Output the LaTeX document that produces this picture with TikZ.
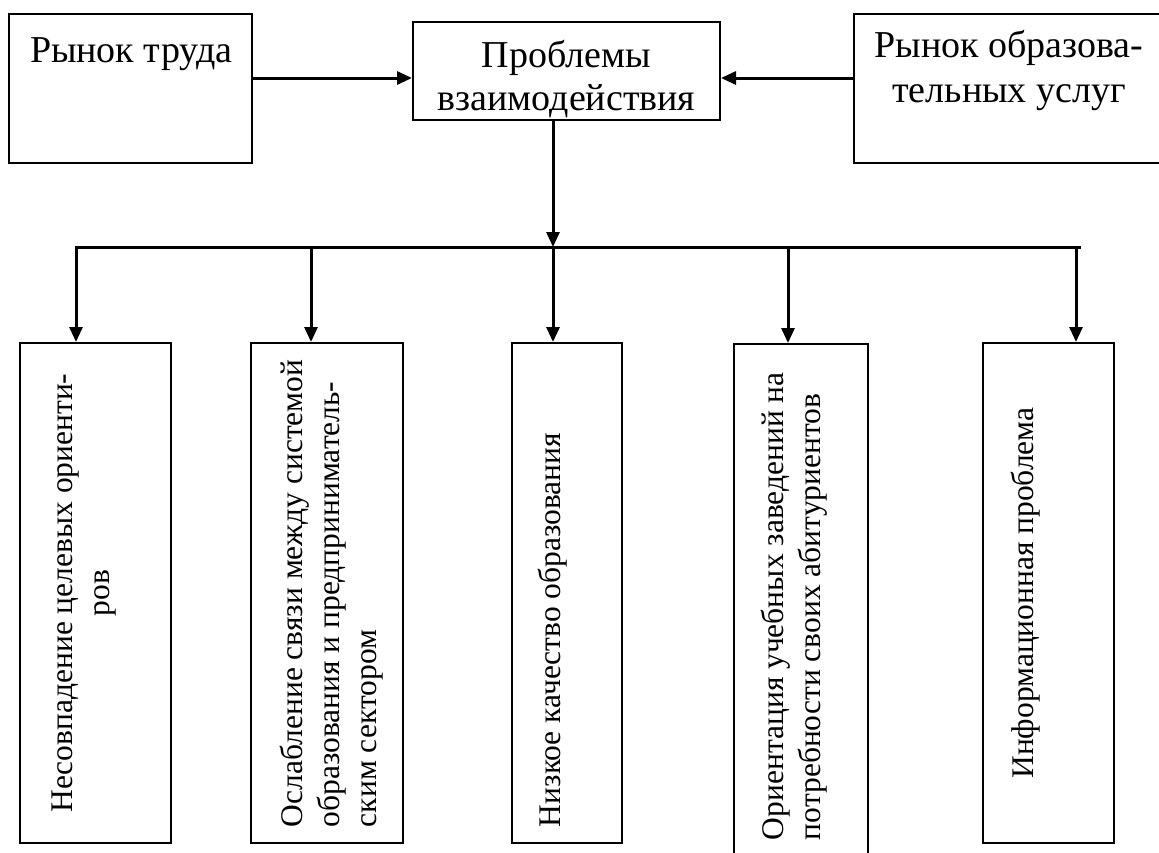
\documentclass[tikz,border=0pt]{standalone}
\usepackage{fontspec}
\setmainfont{Liberation Serif}
\usetikzlibrary{arrows.meta}
\begin{document}
\begin{tikzpicture}[x=1pt,y=-1pt,
  conn/.style={line width=3pt,-{Triangle[length=15pt,width=13pt]}},
  busline/.style={line width=3pt,line cap=rect},
  topbox/.style={draw,line width=2pt,inner sep=0pt,anchor=north west},
  botbox/.style={draw,line width=2pt,inner xsep=16pt,inner ysep=0pt,rotate=90,anchor=center,
    font=\fontsize{31.5}{37}\selectfont}]
\useasboundingbox (0,0) rectangle (1159,852);
\begin{scope}
\clip (0,0) rectangle (1159,852);
% top row
\node[topbox,font=\fontsize{38}{44}\selectfont] (L) at (8,13)
  {\parbox[t][149pt][t]{243pt}{\hspace*{21pt}\rule{0pt}{48pt}Рынок труда}};
\node[topbox,font=\fontsize{38}{43}\selectfont] (C) at (412,21)
  {\parbox[t][98pt][t]{307pt}{\centering\rule{0pt}{45pt}Проблемы\\взаимодействия}};
\node[topbox,font=\fontsize{38}{45}\selectfont] (R) at (853,13)
  {\parbox[t][149pt][t]{310pt}{\centering\rule{0pt}{43pt}Рынок образова-\\тельных услуг}};
% bottom row
\node[botbox] (B1) at (95.5,593)
  {\parbox[t][151pt][t]{468pt}{\centering\rule{0pt}{52pt}Несовпадение целевых ориенти-\\ров}};
\node[botbox] (B2) at (327,593)
  {\parbox[t][152pt][t]{468pt}{\raggedright\rule{0pt}{51pt}Ослабление связи между системой\\образования и предприниматель-\\ским сектором}};
\node[botbox] (B3) at (567,593)
  {\parbox[t][110pt][t]{468pt}{\raggedright\rule{0pt}{48pt}Низкое качество образования}};
\node[botbox] (B4) at (800.5,600)
  {\parbox[t][134pt][t]{480pt}{\raggedright\rule{0pt}{50pt}Ориентация учебных заведений на\\потребности своих абитуриентов}};
\node[botbox] (B5) at (1048.5,593)
  {\parbox[t][131pt][t]{468pt}{\centering\rule{0pt}{50pt}Информационная проблема}};
% junctions on the bus
\coordinate (j1) at (76,247);
\coordinate (j2) at (311,247);
\coordinate (j3) at (553,247);
\coordinate (j4) at (788,247);
\coordinate (j5) at (1076,247);
% connectors
\draw[conn] ([yshift=-65pt]L.north east) -- ([yshift=-57pt]C.north west);
\draw[conn] ([yshift=-65pt]R.north west) -- ([yshift=-57pt]C.north east);
\draw[conn] (C.south -| j3) -- (j3);
\draw[busline] (j1) -- ([xshift=3pt]j5);
\draw[conn] (j1) -- (j1 |- B1.east);
\draw[conn] (j2) -- (j2 |- B2.east);
\draw[conn] (j3) -- (j3 |- B3.east);
\draw[conn] (j4) -- (j4 |- B4.east);
\draw[conn] (j5) -- (j5 |- B5.east);
\end{scope}
\end{tikzpicture}
\end{document}
